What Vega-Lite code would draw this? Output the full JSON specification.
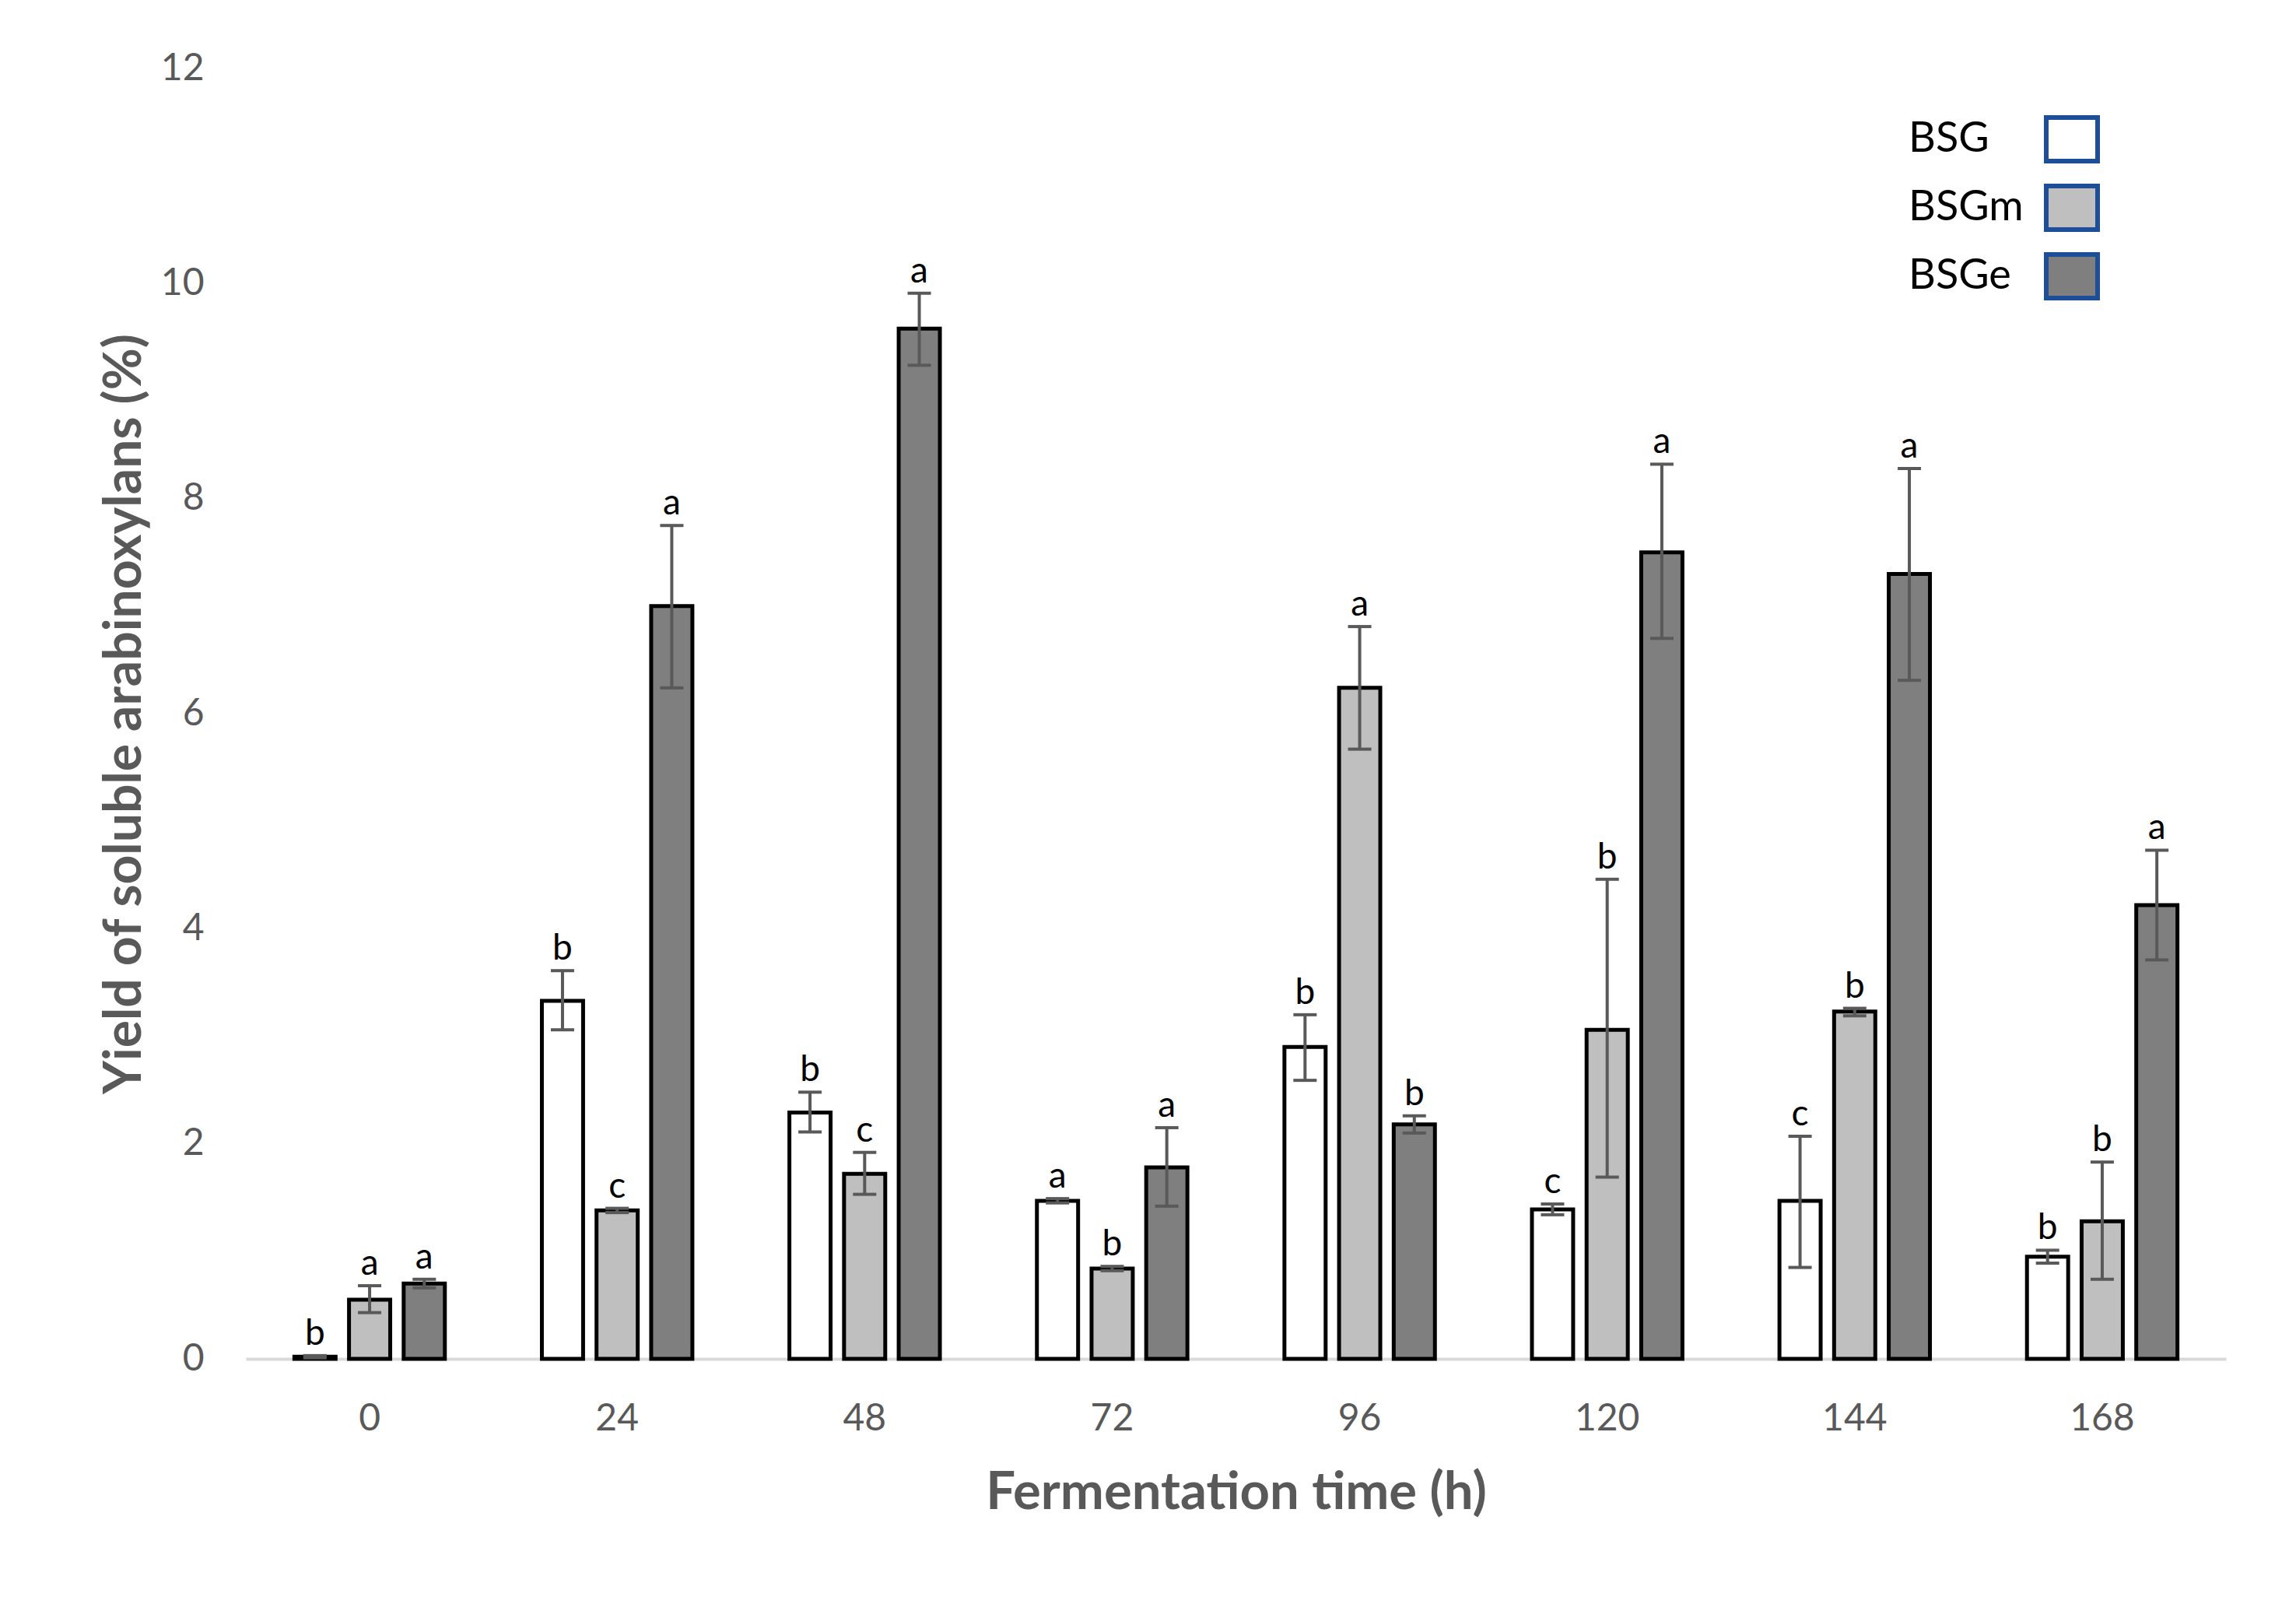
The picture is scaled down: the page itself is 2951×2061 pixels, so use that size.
{
  "$schema": "https://vega.github.io/schema/vega-lite/v6.json",
  "width": 2545,
  "height": 1658,
  "autosize": {"type": "none"},
  "padding": {"left": 316, "top": 88, "right": 90, "bottom": 315},
  "background": "white",
  "config": {
    "view": {"stroke": null},
    "font": "Lato, Open Sans, sans-serif"
  },
  "data": {
    "values": [
      {"time": 0, "sample": "BSG", "mean": 0.02, "lo": 0.01, "hi": 0.03, "letter": "b"},
      {"time": 0, "sample": "BSGm", "mean": 0.55, "lo": 0.43, "hi": 0.68, "letter": "a"},
      {"time": 0, "sample": "BSGe", "mean": 0.70, "lo": 0.66, "hi": 0.74, "letter": "a"},
      {"time": 24, "sample": "BSG", "mean": 3.33, "lo": 3.06, "hi": 3.61, "letter": "b"},
      {"time": 24, "sample": "BSGm", "mean": 1.38, "lo": 1.36, "hi": 1.40, "letter": "c"},
      {"time": 24, "sample": "BSGe", "mean": 7.00, "lo": 6.24, "hi": 7.75, "letter": "a"},
      {"time": 48, "sample": "BSG", "mean": 2.29, "lo": 2.11, "hi": 2.48, "letter": "b"},
      {"time": 48, "sample": "BSGm", "mean": 1.72, "lo": 1.53, "hi": 1.92, "letter": "c"},
      {"time": 48, "sample": "BSGe", "mean": 9.58, "lo": 9.24, "hi": 9.91, "letter": "a"},
      {"time": 72, "sample": "BSG", "mean": 1.47, "lo": 1.45, "hi": 1.49, "letter": "a"},
      {"time": 72, "sample": "BSGm", "mean": 0.84, "lo": 0.82, "hi": 0.86, "letter": "b"},
      {"time": 72, "sample": "BSGe", "mean": 1.78, "lo": 1.42, "hi": 2.15, "letter": "a"},
      {"time": 96, "sample": "BSG", "mean": 2.90, "lo": 2.59, "hi": 3.20, "letter": "b"},
      {"time": 96, "sample": "BSGm", "mean": 6.24, "lo": 5.67, "hi": 6.81, "letter": "a"},
      {"time": 96, "sample": "BSGe", "mean": 2.18, "lo": 2.10, "hi": 2.26, "letter": "b"},
      {"time": 120, "sample": "BSG", "mean": 1.39, "lo": 1.34, "hi": 1.44, "letter": "c"},
      {"time": 120, "sample": "BSGm", "mean": 3.06, "lo": 1.69, "hi": 4.46, "letter": "b"},
      {"time": 120, "sample": "BSGe", "mean": 7.50, "lo": 6.70, "hi": 8.32, "letter": "a"},
      {"time": 144, "sample": "BSG", "mean": 1.47, "lo": 0.85, "hi": 2.07, "letter": "c"},
      {"time": 144, "sample": "BSGm", "mean": 3.23, "lo": 3.19, "hi": 3.26, "letter": "b"},
      {"time": 144, "sample": "BSGe", "mean": 7.30, "lo": 6.31, "hi": 8.28, "letter": "a"},
      {"time": 168, "sample": "BSG", "mean": 0.95, "lo": 0.89, "hi": 1.01, "letter": "b"},
      {"time": 168, "sample": "BSGm", "mean": 1.28, "lo": 0.74, "hi": 1.83, "letter": "b"},
      {"time": 168, "sample": "BSGe", "mean": 4.22, "lo": 3.71, "hi": 4.73, "letter": "a"}
    ]
  },
  "encoding": {
    "x": {
      "field": "time",
      "type": "ordinal",
      "scale": {"paddingInner": 0.392, "paddingOuter": 0.196},
      "axis": {
        "labelAngle": 0,
        "ticks": false,
        "tickSize": 0,
        "domainColor": "#d9d9d9",
        "domainWidth": 4,
        "labelFontSize": 48,
        "labelColor": "#595959",
        "labelPadding": 91,
        "labelBaseline": "alphabetic",
        "title": "Fermentation time (h)",
        "titleFontSize": 67,
        "titleFontWeight": "bold",
        "titleColor": "#595959",
        "titleY": 192,
        "titleBaseline": "alphabetic"
      }
    },
    "xOffset": {
      "field": "sample",
      "type": "nominal",
      "sort": ["BSG", "BSGm", "BSGe"],
      "scale": {"paddingInner": 0.246, "paddingOuter": 0}
    }
  },
  "layer": [
    {
      "mark": {"type": "bar", "stroke": "black", "strokeWidth": 5},
      "encoding": {
        "y": {
          "field": "mean",
          "type": "quantitative",
          "scale": {"domain": [0, 12], "nice": false},
          "axis": {
            "values": [0, 2, 4, 6, 8, 10, 12],
            "format": "d",
            "domain": false,
            "ticks": false,
            "tickSize": 0,
            "grid": false,
            "labelFontSize": 48,
            "labelColor": "#595959",
            "labelPadding": 54,
            "title": "Yield of soluble arabinoxylans (%)",
            "titleFontSize": 66,
            "titleFontWeight": "bold",
            "titleColor": "#595959",
            "titleAngle": -90,
            "titleX": -136,
            "titleY": 829,
            "titleAlign": "center",
            "titleBaseline": "alphabetic"
          }
        },
        "color": {
          "field": "sample",
          "type": "nominal",
          "sort": ["BSG", "BSGm", "BSGe"],
          "scale": {"domain": ["BSG", "BSGm", "BSGe"], "range": ["#ffffff", "#bfbfbf", "#7f7f7f"]},
          "legend": {
            "orient": "none",
            "legendX": 2311,
            "legendY": 55,
            "title": null,
            "padding": 0,
            "symbolType": "M-1,-0.85H1V0.85H-1Z",
            "symbolSize": 4356,
            "symbolStrokeWidth": 6,
            "symbolStrokeColor": "#1F4E99",
            "symbolOpacity": 1,
            "labelFontSize": 54,
            "labelColor": "black",
            "labelLimit": 400,
            "labelOffset": -246,
            "rowPadding": 6,
            "encode": {
              "symbols": {"update": {"stroke": {"value": "#1F4E99"}, "strokeWidth": {"value": 6}}}
            }
          }
        }
      }
    },
    {
      "mark": {"type": "rule", "color": "#595959", "strokeWidth": 4},
      "encoding": {
        "y": {"field": "lo", "type": "quantitative"},
        "y2": {"field": "hi"}
      }
    },
    {
      "mark": {"type": "tick", "color": "#595959", "thickness": 4, "size": 30, "opacity": 1},
      "encoding": {
        "y": {"field": "lo", "type": "quantitative"}
      }
    },
    {
      "mark": {"type": "tick", "color": "#595959", "thickness": 4, "size": 30, "opacity": 1},
      "encoding": {
        "y": {"field": "hi", "type": "quantitative"}
      }
    },
    {
      "mark": {"type": "text", "baseline": "alphabetic", "align": "center", "dy": -14, "fontSize": 46, "color": "black"},
      "encoding": {
        "y": {"field": "hi", "type": "quantitative"},
        "text": {"field": "letter"}
      }
    }
  ]
}
